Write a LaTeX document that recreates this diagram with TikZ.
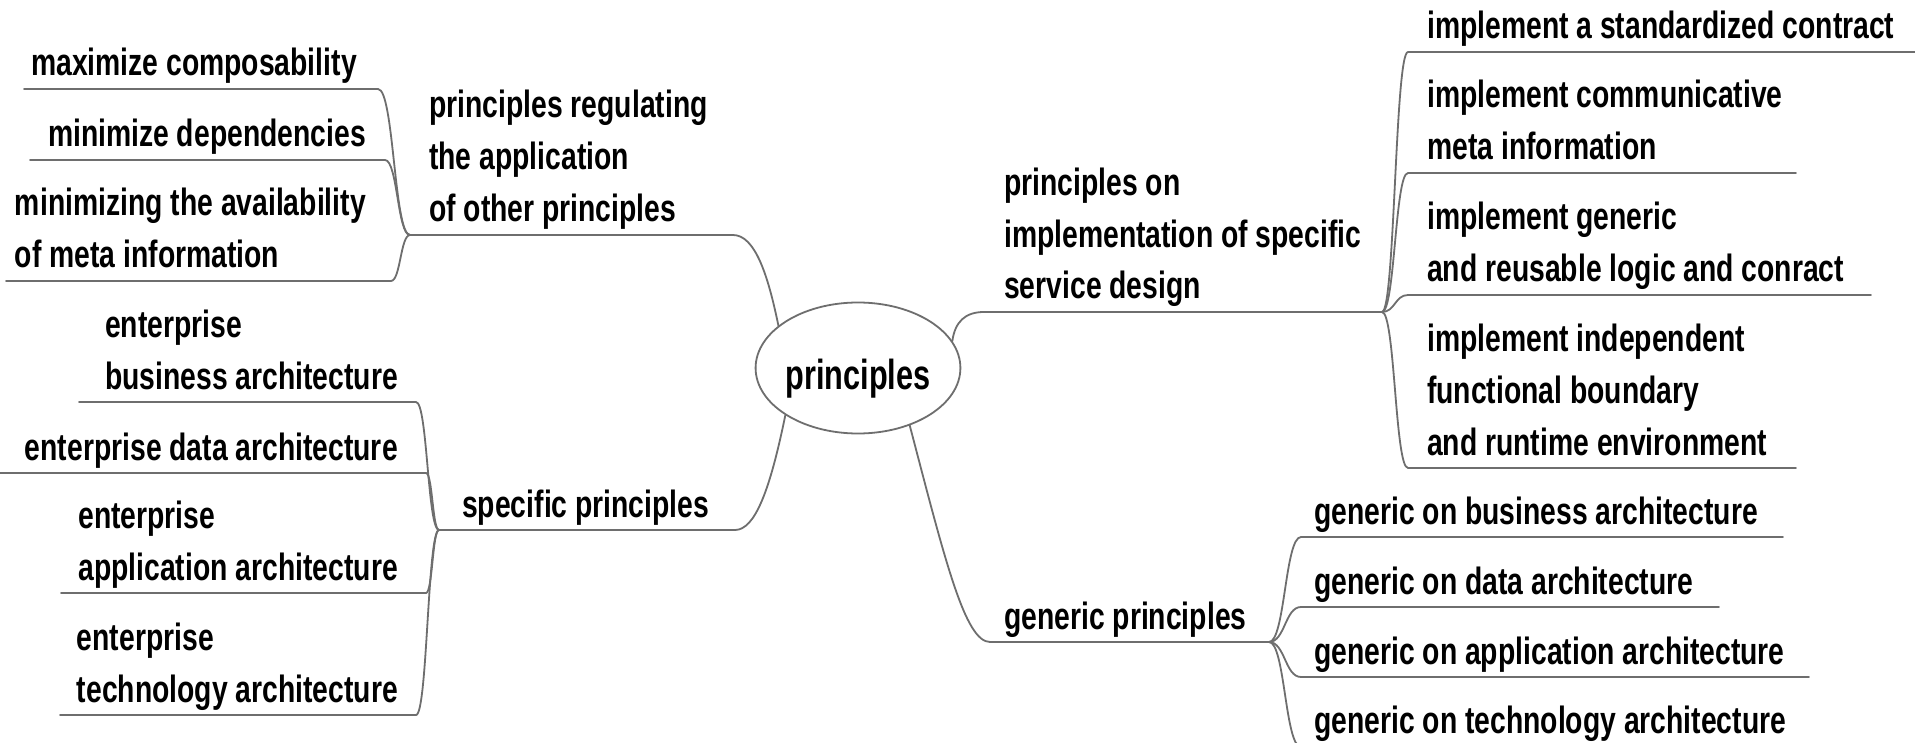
\documentclass[tikz,border=0pt]{standalone}
\usepackage{fontspec}
\newfontfamily\mmfont{Liberation Sans}[FakeStretch=0.745]
\newfontfamily\rootfont{Liberation Sans}[FakeStretch=0.73]
\usetikzlibrary{calc,shapes.geometric}
\definecolor{linegray}{RGB}{110,110,110}
\newcommand{\mlines}[1]{\begin{tabular}[b]{@{}l@{}}#1\end{tabular}}
\tikzset{
  txt/.style={inner sep=0pt, font=\mmfont\bfseries\fontsize{38}{52}\selectfont},
  ltxt/.style={txt, anchor=base east},
  rtxt/.style={txt, anchor=base west},
  conn/.style={draw=linegray, line width=1.8pt, line cap=round, line join=round},
  mm/.style={to path={let \p1=(\tikztostart), \p2=(\tikztotarget) in
      .. controls ({(\x1+\x2)/2},\y1) and ({(\x1+\x2)/2},\y2) .. (\tikztotarget)}},
  rootnode/.style={ellipse, draw=linegray, line width=1.8pt, minimum width=187pt,
      minimum height=131pt, inner sep=0pt, text height=42pt, text depth=0pt,
      font=\rootfont\bfseries\fontsize{42}{48}\selectfont},
}
\begin{document}
\begin{tikzpicture}[x=1pt,y=-1pt]
\useasboundingbox (0,0) rectangle (1915,743);
\fill[white] (0,0) rectangle (1915,743);

% root
\node[rootnode] (root) at (858,368) {principles};

% ---------- left top: principles regulating ----------
\node[rtxt] (P1) at (429,222) {\mlines{principles regulating\\the application\\of other principles}};
\coordinate (P1l) at (410,235); \coordinate (P1r) at (733,235);
\draw[conn] (P1l) -- (P1r) .. controls (755,235) and (768,275) .. (root.152);

\node[ltxt] (A1) at (357,76) {\mlines{maximize composability}};
\node[ltxt] (A2) at (366,147) {\mlines{minimize dependencies}};
\node[ltxt] (A3) at (366,268) {\mlines{minimizing the availability\\of meta information}};
\coordinate (A1l) at (24,89);  \coordinate (A1r) at (378,89);
\coordinate (A2l) at (30,160); \coordinate (A2r) at (385,160);
\coordinate (A3l) at (6,281);  \coordinate (A3r) at (391,281);
\draw[conn] (A1l) -- (A1r) to[mm] (P1l);
\draw[conn] (A2l) -- (A2r) to[mm] (P1l);
\draw[conn] (A3l) -- (A3r) to[mm] (P1l);

% ---------- left bottom: specific principles ----------
\node[rtxt] (P2) at (462,517) {\mlines{specific principles}};
\coordinate (P2l) at (439,530); \coordinate (P2r) at (735,530);
\draw[conn] (root.213) .. controls (770,490) and (755,530) .. (P2r) -- (P2l);

\node[ltxt] (B1) at (398,389) {\mlines{enterprise\\business architecture}};
\node[ltxt] (B2) at (398,460) {\mlines{enterprise data architecture}};
\node[ltxt] (B3) at (398,580) {\mlines{enterprise\\application architecture}};
\node[ltxt] (B4) at (398,702) {\mlines{enterprise\\technology architecture}};
\coordinate (B1l) at (79,402); \coordinate (B1r) at (416,402);
\coordinate (B2l) at (0,473);  \coordinate (B2r) at (426,473);
\coordinate (B3l) at (61,593); \coordinate (B3r) at (426,593);
\coordinate (B4l) at (60,715); \coordinate (B4r) at (416,715);
\draw[conn] (B1l) -- (B1r) to[mm] (P2l);
\draw[conn] (B2l) -- (B2r) to[mm] (P2l);
\draw[conn] (B3l) -- (B3r) to[mm] (P2l);
\draw[conn] (B4l) -- (B4r) to[mm] (P2l);

% ---------- right top: principles on implementation ----------
\node[rtxt] (P3) at (1004,299) {\mlines{principles on\\implementation of specific\\service design}};
\coordinate (P3l) at (984,312); \coordinate (P3r) at (1382,312);
\draw[conn] (root.16) .. controls (955,322) and (965,312) .. (P3l) -- (P3r);

\node[rtxt] (C1) at (1427,39)  {\mlines{implement a standardized contract}};
\node[rtxt] (C2) at (1427,160) {\mlines{implement communicative\\meta information}};
\node[rtxt] (C3) at (1427,282) {\mlines{implement generic\\and reusable logic and conract}};
\node[rtxt] (C4) at (1427,455) {\mlines{implement independent\\functional boundary\\and runtime environment}};
\coordinate (C1l) at (1408,52);  \coordinate (C1r) at (1915,52);
\coordinate (C2l) at (1408,173); \coordinate (C2r) at (1796,173);
\coordinate (C3l) at (1408,295); \coordinate (C3r) at (1871,295);
\coordinate (C4l) at (1408,468); \coordinate (C4r) at (1796,468);
\draw[conn] (P3r) to[mm] (C1l) -- (C1r);
\draw[conn] (P3r) to[mm] (C2l) -- (C2r);
\draw[conn] (P3r) to[mm] (C3l) -- (C3r);
\draw[conn] (P3r) to[mm] (C4l) -- (C4r);

% ---------- right bottom: generic principles ----------
\node[rtxt] (P4) at (1004,629) {\mlines{generic principles}};
\coordinate (P4l) at (990,642); \coordinate (P4r) at (1269,642);
\draw[conn] (root.312) .. controls (945,560) and (965,642) .. (P4l) -- (P4r);

\node[rtxt] (D1) at (1314,524) {\mlines{generic on business architecture}};
\node[rtxt] (D2) at (1314,594) {\mlines{generic on data architecture}};
\node[rtxt] (D3) at (1314,664) {\mlines{generic on application architecture}};
\node[rtxt] (D4) at (1314,733) {\mlines{generic on technology architecture}};
\coordinate (D1l) at (1301,537); \coordinate (D1r) at (1783,537);
\coordinate (D2l) at (1301,607); \coordinate (D2r) at (1719,607);
\coordinate (D3l) at (1301,677); \coordinate (D3r) at (1809,677);
\coordinate (D4l) at (1301,747); \coordinate (D4r) at (1809,747);
\draw[conn] (P4r) to[mm] (D1l) -- (D1r);
\draw[conn] (P4r) to[mm] (D2l) -- (D2r);
\draw[conn] (P4r) to[mm] (D3l) -- (D3r);
\draw[conn] (P4r) to[mm] (D4l) -- (D4r);
\end{tikzpicture}
\end{document}
